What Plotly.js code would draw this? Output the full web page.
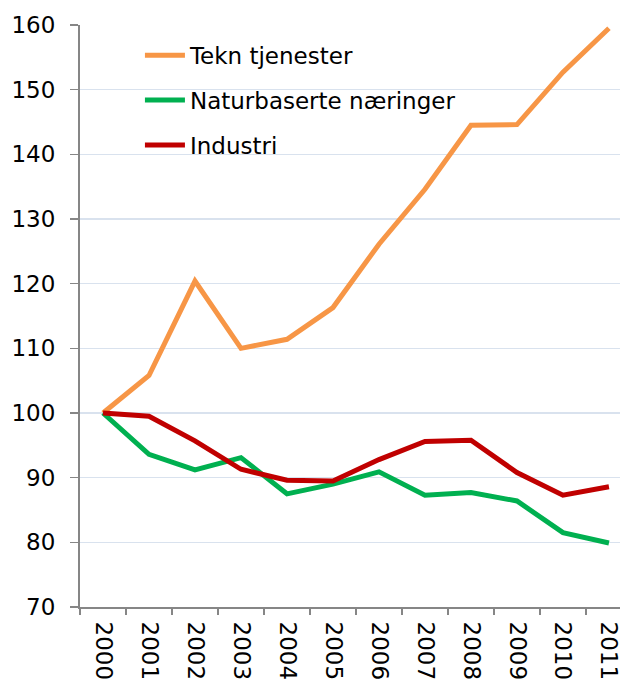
<!DOCTYPE html>
<html>
<head>
<meta charset="utf-8">
<script src="https://cdn.plot.ly/plotly-3.0.1.min.js"></script>
<style>html,body{margin:0;padding:0;background:#fff;}#chart{width:620px;height:679px;}</style>
</head>
<body>
<div id="chart"></div>
<script>
var years = ["2000","2001","2002","2003","2004","2005","2006","2007","2008","2009","2010","2011"];
var seriesNames = ["Tekn tjenester","Naturbaserte næringer","Industri"];
var tekn = [100, 105.8, 120.4, 110.0, 111.4, 116.3, 126.1, 134.6, 144.5, 144.6, 152.7, 159.5];
var natur = [100, 93.6, 91.2, 93.1, 87.5, 89.0, 90.9, 87.3, 87.7, 86.4, 81.5, 79.9];
var industri = [100, 99.5, 95.7, 91.3, 89.6, 89.5, 92.8, 95.6, 95.8, 90.8, 87.3, 88.6];
var colors = ["#F79646","#00B050","#C00000"];
var vals = [tekn, natur, industri];

var traces = vals.map(function(v,i){
  return {x: years, y: v, type:"scatter", mode:"lines", name: seriesNames[i],
    legendgroup: "g"+i,
    line:{color: colors[i], width:5}};
});

var layout = {
  width:620, height:679,
  margin:{l:80, r:0, t:25, b:71.5, pad:0},
  paper_bgcolor:"#fff", plot_bgcolor:"#fff",
  font:{family:"DejaVu Sans, sans-serif", size:23, color:"#000"},
  showlegend:true,
  legend:{x:0.111, y:0.985, xanchor:"left", yanchor:"top", bgcolor:"rgba(0,0,0,0)",
    font:{size:23, color:"#000"}, tracegroupgap:12, itemwidth:40},
  xaxis:{type:"category", range:[-0.5, 11.24], showgrid:false, zeroline:false,
    showline:true, linecolor:"#868686", linewidth:2,
    ticks:"outside", ticklen:6, tickcolor:"#868686", tickwidth:1.5, tickson:"boundaries",
    tickangle:90, tickfont:{size:23, color:"#000"}, ticklabelstandoff:8, automargin:false},
  yaxis:{range:[70,160], dtick:10, showgrid:true, gridcolor:"#D9E2EE", gridwidth:1.5,
    zeroline:false, showline:true, linecolor:"#868686", linewidth:2,
    ticks:"outside", ticklen:8, tickcolor:"#868686", tickwidth:1.5,
    tickfont:{size:23, color:"#000"}, ticklabelstandoff:10, automargin:false}
};
Plotly.newPlot("chart", traces, layout, {displayModeBar:false, staticPlot:true});
</script>
</body>
</html>
